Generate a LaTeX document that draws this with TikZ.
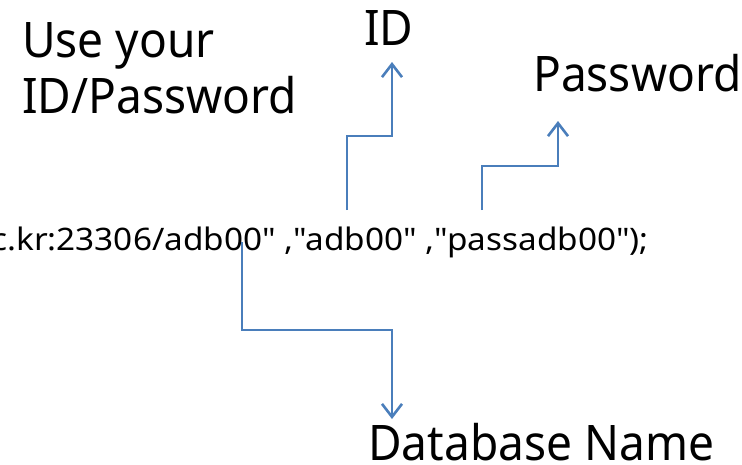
\documentclass[tikz,border=0pt]{standalone}
\usepackage{fontspec}
\setmainfont{Noto Sans}
\newfontfamily\codefont{Noto Sans}[Ligatures=TeXOff]
\usetikzlibrary{arrows.meta}
\definecolor{linkblue}{RGB}{74,126,187}

\begin{document}
\begin{tikzpicture}[x=1pt, y=-1pt,
    label/.style={font=\fontsize{49}{52}\selectfont, inner sep=0pt, anchor=base west},
    link/.style={linkblue, line width=2.6pt, -{Straight Barb[length=13pt, width=20pt, line width=2.6pt]}}]

    % Frame
    \useasboundingbox (0,0) rectangle (742,464);
    \clip (0,0) rectangle (742,464);

    % Code line
    \node[inner sep=0pt, anchor=base east] (code) at (649,250)
        {\scalebox{1.075}[1]{\codefont\fontsize{31}{34}\selectfont c.kr:23306/adb00" ,"adb00" ,"passadb00");}};

    % Labels
    \node[label] (use) at (22,57) {\scalebox{0.94}[1]{Use your}};
    \node[label] (idpw) at (22,113) {\scalebox{0.94}[1]{ID/Password}};
    \node[label] (id) at (364,45) {\scalebox{0.94}[1]{ID}};
    \node[label] (pw) at (533,91) {\scalebox{0.94}[1]{Password}};
    \node[label] (db) at (368,460) {\scalebox{0.94}[1]{Database Name}};

    % Points
    \coordinate (idstart) at (347,210);
    \coordinate (idend) at (392,62);
    \coordinate (pwstart) at (482,210);
    \coordinate (pwend) at (558,121);
    \coordinate (dbstart) at (242,242);
    \coordinate (dbend) at (392,419);

    % Arrows
    \draw[link] (idstart) |- (369.5,136) -| (idend);
    \draw[link] (pwstart) |- (520,166) -| (pwend);
    \draw[link] (dbstart) |- (317,330) -| (dbend);

\end{tikzpicture}
\end{document}
